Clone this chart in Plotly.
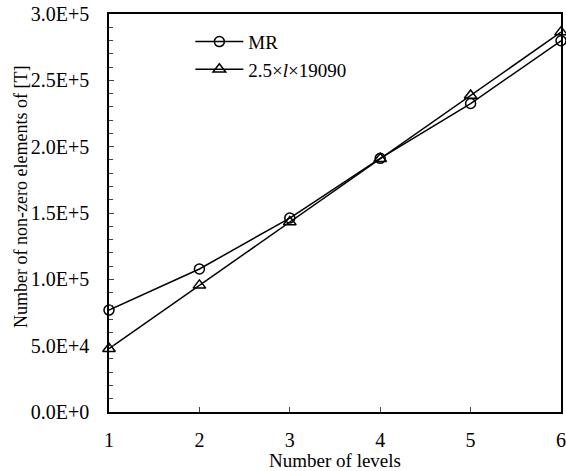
import plotly.graph_objects as go

levels = [1, 2, 3, 4, 5, 6]
mr_values = [76800, 107800, 146200, 191200, 232500, 279800]
fit_values = [47725, 95450, 143175, 190900, 238625, 286350]
y_tickvals = [0, 50000, 100000, 150000, 200000, 250000, 300000]
y_ticktext = ["0.0E+0", "5.0E+4", "1.0E+5", "1.5E+5", "2.0E+5", "2.5E+5", "3.0E+5"]
series_names = ["MR", "2.5×<i>l</i>×19090"]
x_title = "Number of levels"
y_title = "Number of non-zero elements of [T]"

font_family = "Liberation Serif, Times New Roman, serif"

fig = go.Figure()
fig.add_trace(go.Scatter(
    x=levels, y=mr_values, name=series_names[0], mode="lines+markers",
    line=dict(color="black", width=1.5),
    marker=dict(symbol="circle-open", size=10, color="black", line=dict(width=1.5)),
    cliponaxis=False,
))
fig.add_trace(go.Scatter(
    x=levels, y=fit_values, name=series_names[1], mode="lines+markers",
    line=dict(color="black", width=1.5),
    marker=dict(symbol="triangle-up-open", size=11, color="black", line=dict(width=1.5)),
    cliponaxis=False,
))

fig.update_layout(
    width=566, height=471,
    margin=dict(l=109, r=5, t=14, b=59, autoexpand=False),
    paper_bgcolor="white", plot_bgcolor="white",
    font=dict(family=font_family, size=19, color="black"),
    legend=dict(
        x=0.18, y=0.978, xanchor="left", yanchor="top",
        bgcolor="rgba(0,0,0,0)", font=dict(size=19, family=font_family),
        itemwidth=48, tracegroupgap=0,
    ),
    showlegend=True,
    annotations=[dict(
        text=y_title, textangle=-90, xref="paper", yref="paper",
        x=-0.195, y=0.54, xanchor="center", yanchor="middle",
        showarrow=False, font=dict(size=18, family=font_family, color="black"),
    )],
)
fig.update_xaxes(
    range=[1, 6], tickvals=levels, ticks="inside", ticklen=5, tickwidth=1,
    showline=True, linecolor="black", linewidth=1.5, mirror=True,
    showgrid=False, zeroline=False, automargin=False,
    tickfont=dict(size=20), ticklabelstandoff=9,
    title=dict(text=x_title, font=dict(size=19), standoff=0),
)
fig.update_yaxes(
    range=[0, 300000], tickvals=y_tickvals, ticktext=y_ticktext,
    ticks="inside", ticklen=5, tickwidth=1,
    minor=dict(ticks="inside", ticklen=4, dtick=10000, tickwidth=1, showgrid=False),
    showline=True, linecolor="black", linewidth=1.5, mirror=True,
    showgrid=False, zeroline=False, automargin=False,
    tickfont=dict(size=20), ticklabelstandoff=14,
)

fig.write_html("out.html")
